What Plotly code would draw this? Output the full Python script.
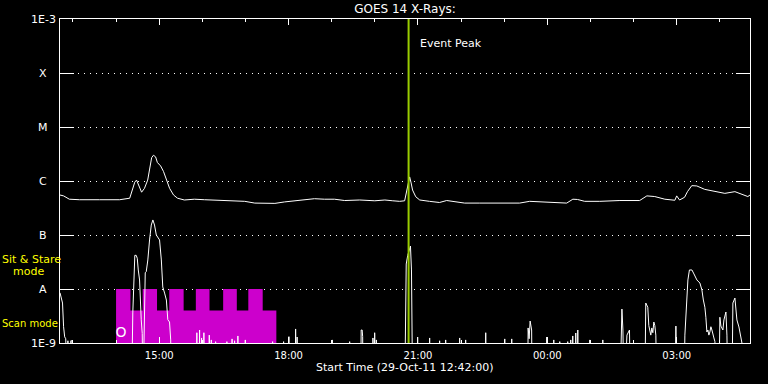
import numpy as np
import pandas as pd
import plotly.graph_objects as go

# ---------------- data ----------------
start = pd.Timestamp("2011-10-29 12:42:00")
end = pd.Timestamp("2011-10-30 04:42:00")
event_peak = pd.Timestamp("2011-10-29 20:47:00")

flare_classes = ["A", "B", "C", "M", "X"]
class_levels = [1e-8, 1e-7, 1e-6, 1e-5, 1e-4]
edge_labels = ["1E-9", "1E-3"]
edge_levels = [1e-9, 1e-3]
all_levels = [1e-9, 1e-8, 1e-7, 1e-6, 1e-5, 1e-4, 1e-3]

# long channel (1-8 A), minutes after start / flux W m^-2
long_t = [0, 5, 13, 27, 55, 83, 97, 101, 104, 106.5,
          109, 113.5, 117.5, 122, 124.5, 127.5, 130, 133, 135.5, 140,
          144, 148, 152.5, 158, 163.5, 173, 187, 201, 215, 236,
          257, 271, 285, 299, 312.5, 326.5, 340, 354, 368, 382,
          396, 417, 438, 452, 463, 472.5, 479.5, 482, 485, 486.5,
          488.5, 490.5, 495, 500.5, 514, 528, 538, 549, 563, 584,
          612, 639.5, 653.5, 674.5, 695, 705, 713.5, 720, 730, 751,
          779, 806.5, 816.5, 827.5, 841.5, 855.5, 858, 862, 869, 873,
          879, 886, 897, 911, 925, 939, 946, 957, 960]
long_v = [5.5e-7, 5.3e-7, 4.6e-7, 4.5e-7, 4.5e-7, 4.5e-7, 4.8e-7, 6.8e-7, 9.5e-7, 1.04e-6,
          8.5e-7, 6.2e-7, 7.3e-7, 1.04e-6, 1.6e-6, 2.7e-6, 3.0e-6, 2.8e-6, 2.2e-6, 1.9e-6,
          1.5e-6, 1.04e-6, 7.3e-7, 5.5e-7, 4.8e-7, 4.45e-7, 4.6e-7, 4.5e-7, 4.45e-7, 4.3e-7,
          4.2e-7, 3.9e-7, 3.9e-7, 3.85e-7, 4.1e-7, 4.3e-7, 4.45e-7, 4.7e-7, 4.6e-7, 4.6e-7,
          4.35e-7, 4.45e-7, 4.3e-7, 4.45e-7, 4.3e-7, 4.2e-7, 4.3e-7, 6.0e-7, 9.5e-7, 1.19e-6,
          9.2e-7, 6.8e-7, 5.1e-7, 4.45e-7, 4.2e-7, 4.0e-7, 4.35e-7, 4.1e-7, 3.9e-7, 3.9e-7,
          3.9e-7, 3.9e-7, 4.2e-7, 4.1e-7, 4.0e-7, 3.9e-7, 4.6e-7, 4.55e-7, 4.2e-7, 4.2e-7,
          4.35e-7, 4.35e-7, 5.3e-7, 5.15e-7, 4.6e-7, 4.4e-7, 5.3e-7, 4.45e-7, 5.0e-7, 6.35e-7,
          8.2e-7, 8.1e-7, 7.0e-7, 6.35e-7, 5.9e-7, 6.35e-7, 5.9e-7, 5.15e-7, 5.5e-7]

# short channel (0.5-4 A); 0 = below detection
short_t = [0, 2, 3.5, 5, 6.5, 8, 9.5, 11, 12.5, 15, 16.5, 18,
           99.5, 101.3, 102.7, 104.1, 106, 107.5, 108.9, 110.7, 113, 114.4, 115.5,
           117, 118.6, 120, 122.2, 124.6, 127, 129.2, 131.5, 134, 136, 138.5,
           141, 143, 145.5, 148, 150, 152.4, 154, 155,
           189.7, 190.4, 191.1, 193.5, 194.2, 194.9, 196.3, 197, 197.7,
           199.5, 200.2, 200.9, 207, 207.7, 208.4, 209.8, 210.5, 211.2,
           215.8, 216.5, 217.2, 231.5, 232.2, 232.9, 238.7, 239.4, 240.1,
           242.2, 242.9, 243.6, 246.8, 247.5, 248.2, 257.1, 257.8, 258.5,
           295.1, 295.8, 296.5, 310.4, 311.1, 311.8, 317.8, 318.5, 319.2,
           327.1, 327.8, 328.5, 329.2, 329.9, 330.6,
           378.2, 378.9, 379.6, 402.3, 403, 403.7,
           418.3, 419, 420.4, 421.1, 421.8,
           434.7, 435.4, 436.1, 437.1, 437.8, 438.5, 439.5, 440.2, 440.9,
           479.6, 481, 481.7, 483.8, 487.6, 489, 489.7, 490.7,
           496.9, 497.6, 498.3, 513.6, 514.3, 515, 527.5, 528.2, 528.9,
           535.9, 536.6, 537.3, 555.4, 556.1, 556.8, 563.7, 564.4, 565.1,
           591.6, 592.3, 593, 618.1, 618.8, 619.5, 627.8, 628.5, 629.2,
           650.6, 651.3, 652.7, 654.1, 656.2, 656.9,
           676.5, 677.2, 677.9, 686.3, 687, 687.7, 694.6, 695.3, 696,
           705.7, 706.4, 707.1,
           709.9, 710.6, 711.3, 712.7, 713.4, 714.1, 716.9, 717.6, 718.3,
           719.7, 720.4, 721.1,
           736.4, 737.1, 737.8, 754.5, 755.2, 755.9,
           779, 780.4, 781.8, 783.2, 784.6, 788.8, 790.9, 792.3, 793.7,
           813.6, 815, 816.4, 817.8, 819.2, 820.6, 822, 823.4, 824.8,
           826.2, 827.6, 829, 830.4,
           855.5, 856.9, 858.3,
           868.1, 869.4, 870.8, 872.2, 873.6, 875.7, 879.2, 882, 886.1,
           890.3, 893.1, 895.1, 897.2, 898.6, 900, 901.4, 902.8, 904.2,
           905.6, 907, 908.4, 909.8, 911.2, 912.5,
           916.7, 918.1, 919.5, 922.3, 923.7, 926.5, 927.9, 929.3,
           934.8, 936.2, 939, 940.4, 941.8, 944.6, 946, 948.8, 950.1, 960]
short_v = [8.5e-9, 7e-9, 5.5e-9, 2e-9, 1.3e-9, 1.2e-9, 0, 1.1e-9, 0, 1.1e-9, 1.1e-9, 0,
           0, 3.6e-9, 2.0e-8, 4.2e-8, 4.2e-8, 3.7e-8, 2.25e-8, 1.47e-8, 2.7e-9, 1.5e-9, 0,
           2.7e-9, 2.0e-8, 2.1e-8, 3.45e-8, 8.1e-8, 1.53e-7, 1.9e-7, 1.53e-7, 1.0e-7, 9.3e-8, 8.1e-8,
           3.45e-8, 1.09e-8, 8.4e-9, 6.25e-9, 2.7e-9, 2.45e-9, 1.14e-9, 0,
           0, 1.55e-9, 0, 0, 1.74e-9, 0, 0, 1.24e-9, 0,
           0, 1.55e-9, 0, 0, 1.4e-9, 0, 0, 1.14e-9, 0,
           0, 1.06e-9, 0, 0, 1.06e-9, 0, 0, 1.19e-9, 0,
           0, 1.1e-9, 0, 0, 1.35e-9, 0, 0, 1.14e-9, 0,
           0, 1.06e-9, 0, 0, 1.06e-9, 0, 0, 1.31e-9, 0,
           0, 1.82e-9, 0, 0, 1.29e-9, 0,
           0, 1.14e-9, 0, 0, 1.06e-9, 0,
           0, 1.74e-9, 1.74e-9, 1.31e-9, 0,
           0, 1.24e-9, 0, 0, 1.55e-9, 0, 0, 1.14e-9, 0,
           0, 6.25e-9, 2.9e-8, 4.2e-8, 6.25e-8, 2.25e-8, 6.25e-9, 0,
           0, 1.29e-9, 0, 0, 1.24e-9, 0, 0, 1.1e-9, 0,
           0, 1.14e-9, 0, 0, 1.24e-9, 0, 0, 1.14e-9, 0,
           0, 1.55e-9, 0, 0, 1.19e-9, 0, 0, 1.19e-9, 0,
           0, 1.9e-9, 1.2e-9, 2.55e-9, 1.74e-9, 0,
           0, 1.29e-9, 0, 0, 1.14e-9, 0, 0, 1.06e-9, 0,
           0, 1.06e-9, 0,
           0, 1.14e-9, 0, 0, 1.35e-9, 0, 0, 1.53e-9, 0,
           0, 1.74e-9, 0,
           0, 1.14e-9, 0, 0, 1.14e-9, 0,
           0, 1.74e-9, 4.25e-9, 1.74e-9, 0, 1.4e-9, 1.6e-9, 1.74e-9, 0,
           0, 5.5e-9, 5.1e-9, 4.6e-9, 2.1e-9, 1.6e-9, 1.4e-9, 1.9e-9, 1.55e-9,
           2.45e-9, 2.1e-9, 1.4e-9, 0,
           0, 2.06e-9, 0,
           0, 1.4e-9, 2.9e-9, 6.25e-9, 1.47e-8, 2.25e-8, 2.25e-8, 1.9e-8, 1.47e-8,
           1.29e-8, 9.6e-9, 6.25e-9, 4.6e-9, 3.0e-9, 1.6e-9, 1.74e-9, 1.4e-9, 1.6e-9,
           2.0e-9, 1.74e-9, 1.53e-9, 1.24e-9, 1.06e-9, 0,
           0, 3.0e-9, 2.06e-9, 1.74e-9, 2.67e-9, 3.75e-9, 1.4e-9, 0,
           0, 5.5e-9, 6.8e-9, 4.1e-9, 2.67e-9, 1.98e-9, 1.6e-9, 1.0e-9, 0, 0]

# instrument mode (Sit & Stare / Scan) boundaries, minutes after start
mode_t = [78, 98, 115, 135, 152, 172, 189, 208, 227, 246, 262, 282, 301]
mode_v = [1e-8, 4e-9, 1e-8, 4e-9, 1e-8, 4e-9, 1e-8, 4e-9, 1e-8, 4e-9, 1e-8, 4e-9]
mode_base = 1e-9

marker_t = [85]
marker_v = [1.5e-9]
marker_text = ["O"]

# ---------------- figure ----------------
FONT = "DejaVu Sans"
WHITE = "#ffffff"


def to_time(mins):
    return start + pd.to_timedelta(np.asarray(mins, dtype=float), unit="min")


fig = go.Figure()

mx = to_time([mode_t[0]] + mode_t)
my = [mode_base] + mode_v + [mode_base]
fig.add_trace(go.Scatter(x=mx, y=my, mode="lines", line_shape="hv", fill="toself",
                         fillcolor="#cc00cc", line=dict(width=0, color="#cc00cc"),
                         hoverinfo="skip", showlegend=False))

fig.add_trace(go.Scatter(x=to_time(long_t), y=long_v, mode="lines",
                         line=dict(color=WHITE, width=1), showlegend=False))

sv = np.asarray(short_v, dtype=float)
sv = np.where(sv > 0, sv, 1e-10)
fig.add_trace(go.Scatter(x=to_time(short_t), y=sv, mode="lines",
                         line=dict(color=WHITE, width=1), showlegend=False))

fig.add_trace(go.Scatter(x=to_time(marker_t), y=marker_v, mode="text", text=marker_text,
                         textfont=dict(family=FONT, size=14, color=WHITE),
                         showlegend=False))

fig.add_shape(type="line", xref="x", yref="paper", x0=event_peak, x1=event_peak,
              y0=0, y1=1, line=dict(color="#99cc00", width=2), layer="above")

annotations = []
annotations.append(dict(text="Event Peak", x=event_peak, xref="x", xanchor="left", xshift=9,
                        y=(343 - 43) / 324, yref="paper", yanchor="middle", showarrow=False,
                        font=dict(family=FONT, size=11, color=WHITE)))
for lab, lev in zip(flare_classes, class_levels):
    annotations.append(dict(text=lab, x=-0.024, xref="paper", xanchor="center",
                            y=np.log10(lev), yref="y", yanchor="middle", showarrow=False,
                            font=dict(family=FONT, size=11, color=WHITE)))
for lab, lev in zip(edge_labels, edge_levels):
    annotations.append(dict(text=lab, x=-0.003, xref="paper", xanchor="right",
                            y=np.log10(lev), yref="y", yanchor="middle", showarrow=False,
                            font=dict(family=FONT, size=11, color=WHITE)))
annotations.append(dict(text="Sit & Stare", x=-0.0875, xref="paper", xanchor="left",
                        y=(343 - 259) / 324, yref="paper", yanchor="middle",
                        showarrow=False, font=dict(family=FONT, size=11, color="#ffff00")))
annotations.append(dict(text="mode", x=-0.071, xref="paper", xanchor="left",
                        y=(343 - 271) / 324, yref="paper", yanchor="middle",
                        showarrow=False, font=dict(family=FONT, size=11, color="#ffff00")))
annotations.append(dict(text="Scan mode", x=-0.0875, xref="paper", xanchor="left",
                        y=(343 - 323) / 324, yref="paper", yanchor="middle",
                        showarrow=False, font=dict(family=FONT, size=10, color="#ffff00")))
annotations.append(dict(text="Start Time (29-Oct-11 12:42:00)", x=0.5, xref="paper",
                        xanchor="center", y=-(368 - 343) / 324, yref="paper",
                        yanchor="middle", showarrow=False,
                        font=dict(family=FONT, size=11, color=WHITE)))

fig.update_layout(
    width=768, height=384,
    margin=dict(l=60, r=18, t=19, b=41),
    paper_bgcolor="black", plot_bgcolor="black",
    font=dict(family=FONT, color=WHITE),
    title=dict(text="GOES 14 X-Rays:", x=0.5, xref="paper", xanchor="center",
               y=1 - 9 / 384, yref="container", yanchor="middle",
               font=dict(family=FONT, size=12, color=WHITE)),
    showlegend=False,
    annotations=annotations,
    xaxis=dict(type="date", range=[start, end], showline=True, linecolor=WHITE, linewidth=1,
               mirror="ticks", ticks="inside", ticklen=6, tickwidth=1, tickcolor=WHITE,
               tick0="2011-10-29 15:00:00", dtick=3 * 3600 * 1000, tickformat="%H:%M",
               tickfont=dict(family=FONT, size=10, color=WHITE), ticklabelstandoff=3,
               showgrid=False, zeroline=False,
               minor=dict(dtick=3600 * 1000, ticks="inside", ticklen=3, tickwidth=1,
                          tickcolor=WHITE, showgrid=False)),
    yaxis=dict(type="log", range=[-9, -3], showline=True, linecolor=WHITE, linewidth=1,
               mirror="ticks", ticks="inside", ticklen=14, tickwidth=1, tickcolor=WHITE,
               tickvals=all_levels, showticklabels=False,
               showgrid=True, gridcolor=WHITE, gridwidth=1, griddash="1px,5px",
               zeroline=False),
)

fig.write_html("out.html", config={"displayModeBar": False},
               post_script="document.body.style.margin='0px';"
                           "document.body.style.background='black';")
